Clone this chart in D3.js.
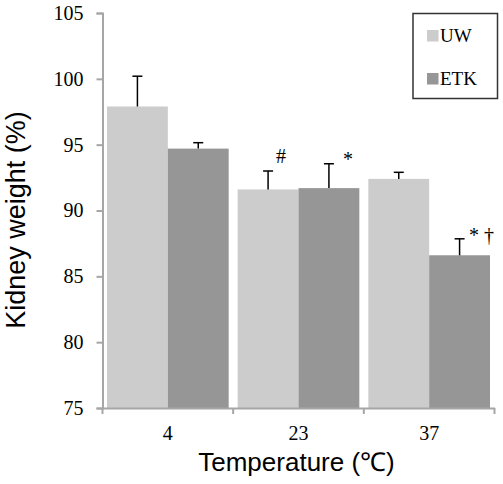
<!DOCTYPE html>
<html><head><meta charset="utf-8">
<script src="https://cdn.jsdelivr.net/npm/d3@7"></script>
<style>
html,body{margin:0;padding:0;background:#fff;}
svg{display:block;}
</style>
</head><body>
<svg id="c" width="503" height="484"></svg>
<script>
// ---- data ----
const categories = ["4", "23", "37"];
const seriesNames = ["UW", "ETK"];
const uwValues = [97.9, 91.6, 92.4];
const uwErrors = [2.3, 1.4, 0.5];
const etkValues = [94.7, 91.7, 86.6];
const etkErrors = [0.45, 1.85, 1.25];
const yTicks = [75, 80, 85, 90, 95, 100, 105];
const annotations = [
  {cat: "23", series: "UW", label: "#"},
  {cat: "23", series: "ETK", label: "*"},
  {cat: "37", series: "ETK", label: "* \u2020"}
];
const xTitle = "Temperature (\u2103)";
const yTitle = "Kidney weight (%)";

(function () {
// ---- build ----
const rows = [];
categories.forEach((c, i) => {
  rows.push({cat: c, series: "UW", v: uwValues[i], e: uwErrors[i]});
  rows.push({cat: c, series: "ETK", v: etkValues[i], e: etkErrors[i]});
});

const svg = d3.select("#c");
const mLeft = 102.5, mRight = 494.5, mTop = 13, mBottom = 408;
const axisColor = "#a6a6a6";
const colors = {UW: "#cccccc", ETK: "#969696"};

const y = d3.scaleLinear().domain([75, 105]).range([mBottom, mTop]);
const x0 = d3.scaleBand().domain(categories).range([mLeft, mRight]).padding(0);
const x1 = d3.scaleBand().domain(seriesNames).range([4.5, x0.bandwidth() - 4.5]).padding(0);

// bars
svg.append("g").selectAll("rect").data(rows).join("rect")
  .attr("x", d => x0(d.cat) + x1(d.series))
  .attr("y", d => y(d.v))
  .attr("width", x1.bandwidth())
  .attr("height", d => y(75) - y(d.v))
  .attr("fill", d => colors[d.series]);

// error bars
const eb = svg.append("g").attr("stroke", "#000").attr("stroke-width", 1.5);
rows.forEach(d => {
  const cx = x0(d.cat) + x1(d.series) + x1.bandwidth() / 2;
  eb.append("line").attr("x1", cx).attr("x2", cx).attr("y1", y(d.v)).attr("y2", y(d.v + d.e));
  eb.append("line").attr("x1", cx - 5).attr("x2", cx + 5).attr("y1", y(d.v + d.e)).attr("y2", y(d.v + d.e));
});

// y axis
const yAxis = d3.axisLeft(y).tickValues(yTicks).tickSize(6).tickPadding(13).tickFormat(d3.format("d"));
const gy = svg.append("g").attr("transform", `translate(${mLeft},0)`).call(yAxis);
gy.select(".domain").attr("stroke", axisColor).attr("stroke-width", 2);
gy.selectAll(".tick line").attr("stroke", axisColor).attr("stroke-width", 2);
gy.selectAll(".tick text").attr("font-family", "'Liberation Serif', 'Times New Roman', serif")
  .attr("font-size", 20).attr("fill", "#000");

// x axis
const xAxis = d3.axisBottom(x0).tickSize(0).tickPadding(0);
const gx = svg.append("g").attr("transform", `translate(0,${mBottom})`).call(xAxis);
gx.select(".domain").attr("stroke", axisColor).attr("stroke-width", 2);
gx.selectAll(".tick text").attr("font-family", "'Liberation Serif', 'Times New Roman', serif")
  .attr("font-size", 20).attr("fill", "#000").attr("dy", null).attr("y", 32);
// group boundary ticks
const bounds = categories.map(c => x0(c)).concat([x0(categories[categories.length - 1]) + x0.bandwidth()]);
gx.selectAll("line.bnd").data(bounds).join("line").attr("class", "bnd")
  .attr("x1", d => d).attr("x2", d => d).attr("y1", 0).attr("y2", 6)
  .attr("stroke", axisColor).attr("stroke-width", 2);

// annotations
const annStyle = {"#": {dx: 13, dy: -8}, "*": {dx: 19, dy: 2}, "* \u2020": {dx: 22, dy: 3}};
annotations.forEach(a => {
  const r = rows.find(d => d.cat === a.cat && d.series === a.series);
  const cx = x0(r.cat) + x1(r.series) + x1.bandwidth() / 2;
  const st = annStyle[a.label];
  svg.append("text")
    .attr("x", cx + st.dx).attr("y", y(r.v + r.e) + st.dy)
    .attr("text-anchor", "middle")
    .attr("font-family", "'Liberation Serif', 'Times New Roman', serif")
    .attr("font-size", 20).attr("fill", "#000")
    .text(a.label);
});

// legend
const lg = svg.append("g");
lg.append("rect").attr("x", 413).attr("y", 13.5).attr("width", 84.5).attr("height", 85)
  .attr("fill", "#fff").attr("stroke", "#333").attr("stroke-width", 1.5);
seriesNames.forEach((s, i) => {
  const yy = 30 + i * 43;
  lg.append("rect").attr("x", 427).attr("y", yy).attr("width", 11.5).attr("height", 11.5).attr("fill", colors[s]);
  lg.append("text").attr("x", 440).attr("y", yy + 12)
    .attr("font-family", "'Liberation Serif', 'Times New Roman', serif")
    .attr("font-size", 19).attr("fill", "#000").text(s);
});

// titles
svg.append("text").attr("x", (mLeft + mRight) / 2 - 2).attr("y", 471).attr("text-anchor", "middle")
  .attr("font-family", "'Liberation Sans', Arial, sans-serif").attr("font-size", 26).attr("fill", "#000")
  .text(xTitle);
svg.append("text").attr("transform", "translate(25,220) rotate(-90)").attr("text-anchor", "middle")
  .attr("font-family", "'Liberation Sans', Arial, sans-serif").attr("font-size", 27).attr("fill", "#000")
  .text(yTitle);
})();
</script>
</body></html>
